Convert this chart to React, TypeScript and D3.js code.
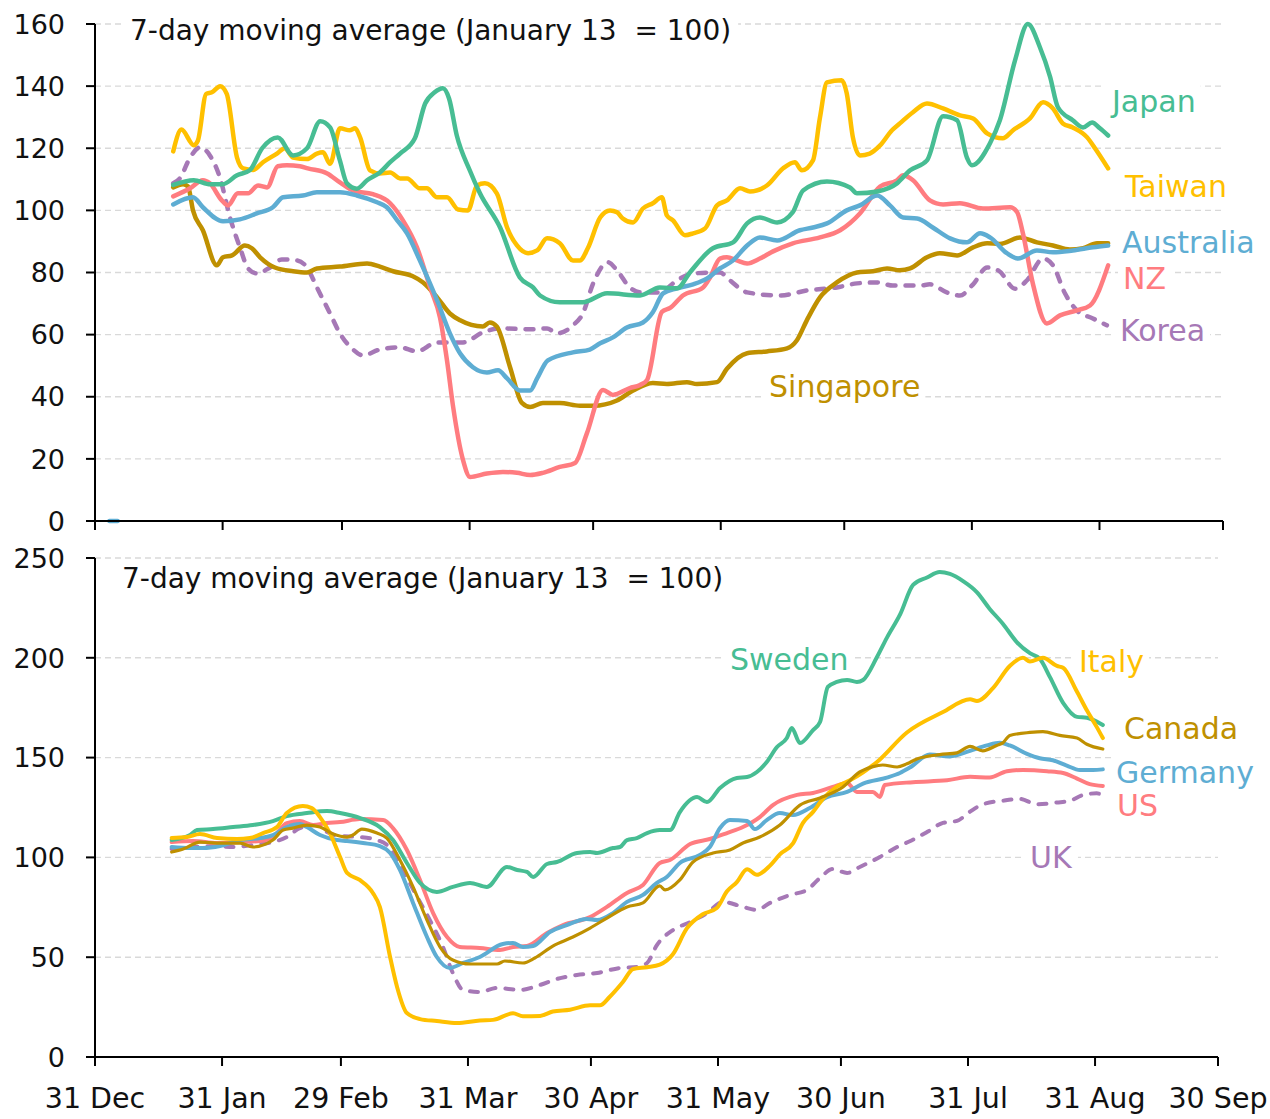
import React, { useEffect, useRef } from 'react';
import * as d3 from 'd3';

type Pt = [number, number]; // [days after 31 Dec 2019, index value]

// ---------- axis data ----------
const monthTickDays = [0, 31, 60, 91, 121, 152, 182, 213, 244, 274];
const monthTickLabels = ['31 Dec', '31 Jan', '29 Feb', '31 Mar', '30 Apr', '31 May', '30 Jun', '31 Jul', '31 Aug', '30 Sep'];
const topYTicks = [0, 20, 40, 60, 80, 100, 120, 140, 160];
const bottomYTicks = [0, 50, 100, 150, 200, 250];
const chartTitle = '7-day moving average (January 13  = 100)';

// ---------- top panel series ----------
const japan: Pt[] = [[19,108.2],[24,109.7],[28,108.4],[31,108.4],[34.5,111.3],[37.6,112.9],[40.6,120],[44.4,123.5],[48.1,117.7],[51.5,120],[54.7,128.7],[57.1,126.7],[59.5,116],[61.2,108.7],[63.6,107],[66.1,109.7],[69.2,112.2],[71.7,115.5],[74.1,118.3],[77.7,123.2],[80.2,134.4],[82.5,138],[84.5,139.3],[86,136],[87.9,124],[91,113],[93.5,105.5],[98.4,94.5],[103.2,78.4],[106.4,75.2],[108.1,72.6],[112.9,70.4],[118.5,70.4],[124.4,73.3],[132.4,72.6],[137.2,75.2],[141.4,74.9],[144.5,80],[150.1,87.8],[155,89.7],[158.4,95.8],[161.5,97.7],[165.7,96.1],[169.5,99.4],[172,106.4],[177.8,109.3],[183.4,107.4],[185.1,105.5],[190,106.1],[194.8,108.7],[198,112.9],[202.1,116.1],[206,130.3],[209.4,129],[211.8,117],[213,114.5],[217.4,121.6],[219.8,129],[223.5,148.4],[226.6,160],[229.5,152.6],[232,143],[233.9,133.2],[237.5,129],[240,126.7],[242.2,128.3],[244.1,126.4],[246.1,124.1]];
const taiwan: Pt[] = [[19,119],[21,126],[24,121],[25,122.5],[27,137.5],[28.4,138],[30.4,140],[32,137.5],[34.5,117],[36,113.5],[38.4,113],[40.8,115.5],[44.2,118.3],[46.1,120],[48.1,117],[51.5,116.5],[53.9,118.3],[55.4,118.7],[57.1,115],[59.5,126.4],[61.9,125.8],[63.2,126.4],[64.4,123.5],[66.8,112.9],[69.2,111.9],[71.7,112.2],[74.1,110.3],[75.8,110.3],[78.9,107.1],[80.6,107.1],[83.1,104.2],[85.5,104.2],[88.2,100.3],[90.6,100],[92.8,108],[94.7,108.7],[97.6,105.5],[100.1,94.5],[102.5,88.7],[105.2,86.2],[107.4,87.1],[109.8,91],[112.9,89.4],[116.1,83.9],[117.8,83.9],[119.7,87.8],[122.7,97.7],[125.1,100],[126.8,99.4],[128.2,97.4],[130.7,96.1],[133.1,100.6],[135.5,102.3],[137.7,104.2],[138.9,98.4],[140.4,96.8],[143.3,92],[145.3,92.6],[148.2,94.2],[151.1,101.6],[153.5,103.2],[156.7,107.1],[159.1,106.1],[163.2,108],[167.1,113.5],[170,115.5],[171.7,112.9],[174.4,116.1],[176.1,129.9],[177.8,141.2],[181.4,141.9],[182.6,137.7],[184.1,123.5],[185.8,117.7],[188.2,118.3],[190.7,120.9],[193.6,125.8],[195.5,128],[198.7,131.6],[202.1,134.4],[206,132.8],[210.1,130.6],[213.3,129.6],[216.7,124.8],[220.5,123.2],[223,125.8],[227.1,129.6],[230.3,134.8],[232.7,132.8],[235.1,128],[237.5,126.7],[241,123.5],[242.9,120],[246.1,113.5]];
const australia: Pt[] = [[19,101.9],[23.8,104.2],[26.2,101],[31.1,96.5],[35.2,97.1],[39.3,99],[43.2,101],[45.7,104.2],[50.5,104.8],[53.9,105.8],[59.5,105.8],[63.6,104.8],[68.5,102.6],[70.9,101],[73.4,96.8],[75.8,92.6],[78.9,83.9],[83.1,71],[86.2,60.4],[88.7,53.9],[91.8,49.5],[95.2,47.8],[97.9,48.5],[100.1,45.9],[103.2,42],[105.7,42],[107.4,45.9],[110,51.7],[116.1,54.3],[120.2,55.2],[122.7,57.2],[125.8,59.1],[129.2,62.3],[133.1,63.9],[135.5,67.2],[138,73.3],[141.4,74.9],[145.3,76.2],[148.7,78.1],[151.8,81.3],[155,83.9],[158.4,88.7],[161.5,91.3],[165.7,90.3],[171.2,93.6],[174.4,94.5],[177.8,95.8],[182.6,100],[185.8,101.6],[190,104.8],[193.1,101.6],[196.3,97.7],[199.7,97.4],[203.5,94.5],[207.7,91],[211.8,89.7],[215,92.6],[217.4,91.3],[221.5,86.2],[224.2,84.5],[228.8,87.1],[232.7,86.5],[237.5,87.1],[242.4,88.1],[246.1,88.7]];
const australiaEarly: Pt[] = [[3.5,0],[5.5,0]];
const nz: Pt[] = [[19,104.5],[23.1,107.1],[26.2,109.7],[27.9,108.7],[30.8,103.2],[32.3,101.6],[34.7,105.5],[37.2,105.5],[39.6,108],[41.8,107.4],[44.4,114.2],[46.6,114.5],[49.8,114.2],[51.7,113.5],[56.4,111.9],[59.5,109],[62.7,106.4],[67.5,105.2],[71.7,102.3],[74.8,96.8],[78.2,88.1],[81.4,75.2],[83.8,65.5],[85.5,51.7],[87,36.7],[89.4,19.6],[91.1,14.2],[95.2,15.3],[99.1,15.8],[102.5,15.5],[105.7,14.8],[108.8,15.5],[112.9,17.4],[116.6,18.7],[119.5,28.3],[123.4,42.2],[125.8,40.6],[129.9,42.8],[132.4,43.8],[134.1,45.4],[137.7,67.3],[139.7,68.6],[142.8,72.6],[147.7,75.2],[149.4,78.4],[151.8,84.5],[153.5,84.9],[155.9,83.9],[158.4,82.9],[161.5,84.5],[164.7,86.8],[169.5,89.4],[176.1,91.3],[181,93.6],[185.8,99],[190.7,107.7],[194.8,109.7],[196.3,111.3],[198.7,109.7],[202.8,103.2],[206,101.9],[210.1,102.3],[215.7,100.6],[222.3,101],[224,99.4],[225.4,92.6],[227.8,76.5],[231.2,63.6],[234.4,66.2],[238.5,67.8],[241.7,69.4],[246.1,82.3]];
const korea: Pt[] = [[19,108.7],[20.6,110.3],[23.1,117],[25.5,120.3],[27.9,117.7],[30.4,110.3],[32.8,97.7],[35.2,88.1],[37.2,81.3],[39.3,79.7],[42.5,81.6],[45.4,84.2],[49.1,83.9],[51.5,81.6],[53.9,75.2],[57.1,66.8],[59.5,60.4],[62.7,55.2],[65.1,53.3],[69.2,55.2],[74.1,55.9],[78.2,54.6],[83.1,57.5],[89.4,57.5],[94.2,60.7],[98.4,62],[106.4,61.7],[109.8,62],[112.2,60.4],[116.1,63],[118.5,66.8],[121,76.5],[124.6,83.3],[126.8,80.7],[129.9,75.2],[132.4,73.6],[137.2,73.6],[141.4,77.5],[145.3,79.7],[151.8,80],[154.2,77.5],[158.4,73.6],[166.4,72.6],[172.9,74.2],[180.2,75.2],[185.1,76.5],[190,76.8],[193.8,75.8],[200.4,75.8],[202.8,76.2],[206.9,73.6],[210.1,72.6],[213.3,76.2],[216.7,81.6],[219.5,80.6],[223.5,74.8],[226.4,77.5],[230.3,84.5],[232.7,82.3],[235.6,73.3],[238.5,67.8],[242.4,65.2],[245.8,63]];
const singapore: Pt[] = [[19,107.4],[21.4,108.4],[22.6,107.7],[23.8,100],[26.2,93.6],[29.6,82.3],[31.1,84.9],[33.3,85.5],[36.4,88.7],[38.1,87.8],[40.1,84.9],[43.7,81.6],[48.1,80.4],[51.5,80],[53.9,81.3],[59.5,81.9],[66.1,82.9],[69.2,81.9],[72.4,80.4],[77.2,78.8],[79.7,76.8],[83.1,72],[86.2,66.8],[88.7,64.6],[94.2,62.6],[95.9,63.9],[97.6,62.6],[100.8,49.6],[103.7,38],[105.7,36.7],[108.8,38],[112.9,38],[117.8,37.1],[121,37.1],[126.8,38.8],[130.7,42],[135.5,44.4],[138.9,44.1],[143.8,44.7],[146.2,44.1],[151.1,44.7],[153.5,49],[158.4,54],[163.2,54.6],[168.1,55.6],[170.5,58.2],[172.9,64.6],[176.1,72],[180.2,76.8],[185.1,80],[189,80.4],[192.4,81.3],[195.5,80.7],[198,81.3],[202.1,84.9],[205.2,86.2],[209.4,85.5],[213.3,88.1],[216.7,89.4],[219.8,89.2],[224.7,91.3],[228.8,89.7],[232.7,88.7],[236.8,87.4],[240,87.8],[243.4,89.4],[246.1,89.4]];

// ---------- bottom panel series ----------
const sweden: Pt[] = [[18.7,108.7],[23.2,111.2],[24.9,113.7],[28.8,114.2],[33.7,115.2],[38.5,116.2],[43.4,118.2],[46.8,120.7],[51.7,122.2],[56.6,123.2],[59.8,122.2],[64.7,119.7],[69.5,115.2],[72.7,108.7],[76.1,97.2],[79.3,87.2],[83.4,82.7],[87.3,85.2],[91.5,87.2],[95.6,85.2],[100.5,95.2],[103,93.7],[105.4,92.7],[106.9,90.2],[110.3,96.7],[112.7,97.7],[117.6,102.2],[120.8,102.7],[122.5,102.2],[126.4,104.7],[128.1,105.2],[129.8,108.7],[132.2,109.7],[134.7,112.2],[137.8,113.7],[140.3,113.7],[142.7,122.7],[146.9,130.2],[149.3,127.7],[152.5,134.8],[156.6,139.8],[159.1,140.3],[161.5,142.8],[163.9,147.8],[166.4,155.3],[168.8,159.8],[170,164.8],[172,157.3],[175.2,163.8],[176.9,167.8],[178.8,185.4],[181,187.9],[183.5,188.9],[185.9,187.9],[187.4,188.9],[190.8,200.4],[193.2,210],[196.5,222],[199.6,236.5],[203,240.2],[206.1,243],[208.6,242],[211.8,238.4],[215.2,232.8],[218.3,224.5],[221.5,217.1],[224.9,207.9],[228.1,202.3],[230.5,199.6],[233,190.3],[236.2,177.4],[239.6,170.4],[242,170],[244.4,168.1],[245.9,166.3]];
const italy: Pt[] = [[18.7,109.7],[22.4,110.2],[25.6,111.7],[29.8,109.7],[34.6,109.2],[37.8,109.7],[41,112.2],[44.4,115.2],[46.8,122.2],[50.7,125.7],[52.9,124.7],[54.9,120.2],[57.3,112.2],[59.8,100.2],[61.5,92.2],[64.6,88.7],[67.8,82.2],[69.5,75.2],[72,50.1],[73.7,35.1],[76.1,22],[79.3,19],[83.4,18],[88.3,17],[93.9,18.3],[97.1,18.6],[102,21.9],[104.4,20.4],[108.6,20.6],[111.7,22.8],[115.9,23.7],[120.8,25.9],[123.2,25.9],[125.6,30.2],[128.8,37.6],[131.3,44.1],[134.7,45],[137.8,46.3],[141,51.5],[144.4,64.4],[148.3,71.5],[151.7,74.6],[154.2,83],[156.6,87.6],[159.1,94.1],[161.5,91.3],[164.7,95.9],[167.1,101.5],[170.3,107],[172.7,117.2],[175.2,122.8],[177.6,129.3],[181,135.5],[184.2,138.6],[190.8,147.8],[198.1,162.6],[206.9,172.8],[213.5,179.2],[215.2,178.3],[219.1,184.8],[223.2,195.9],[226.4,200],[228.1,198.2],[231.3,200],[234.7,195.9],[236.2,195],[239.6,183],[242,173.7],[244.4,165.4],[245.9,159.8]];
const germany: Pt[] = [[18.7,105.2],[23.2,104.7],[26.3,104.7],[30.5,105.7],[35.4,108.7],[40.3,109.7],[43.4,111.2],[46.8,115.2],[50,116.7],[51.7,115.2],[54.9,111.2],[59,108.7],[61.5,108.2],[65.4,107.2],[69.5,105.7],[72,102.2],[74.4,93.7],[77.6,77.2],[81,60.1],[83.4,50.1],[86.6,44.6],[89.8,47.1],[93.9,50.1],[99.5,56.6],[102,57.1],[104.4,55.1],[106.9,55.6],[111,62.6],[115.1,66.1],[120,69.1],[122.5,68.6],[126.4,72.1],[129.8,77.7],[133.7,81.2],[137.1,87.2],[139.5,90.2],[142.7,97.2],[147.6,101.2],[150,105.2],[152.5,114.7],[154.9,118.7],[159.1,118.2],[161,114.2],[163.9,118.7],[167.1,122.2],[170.3,121.2],[174.4,124.7],[178.6,130.2],[183.5,132.8],[187.4,137],[193.2,140],[196.4,142.3],[198.8,145],[203.7,151.5],[208.6,150.6],[213.5,153.4],[217.6,156.1],[220.8,157.4],[223.2,156.1],[227.4,151.9],[230.5,149.7],[233.7,148.7],[237.1,146],[240.3,143.8],[243.5,143.8],[245.9,144.1]];
const us: Pt[] = [[18.7,107.7],[23.9,108.2],[29.8,107.2],[35.4,107.7],[40.3,108.2],[43.4,110.2],[46.8,117.2],[50,118.2],[53.2,116.2],[56.6,117.2],[59.8,117.7],[64.6,119.2],[70.3,118.7],[72.7,114.7],[76.1,103.7],[79.3,88.7],[82.5,72.1],[85.9,60.1],[89,55.1],[93.9,54.6],[98.8,53.6],[102,55.1],[105.4,55.6],[110.3,62.1],[114.2,66.1],[120.8,70.1],[124.9,75.2],[129.8,82.2],[133.7,86.2],[137.8,97.2],[140.3,98.7],[145.2,106.7],[150,109.2],[154.2,112.2],[158.1,115.2],[162.2,120.2],[165.4,126.2],[171.3,131.3],[175.2,132.3],[180,135.3],[183.5,137.3],[185.9,132.8],[189.8,132.8],[191.5,130.3],[192.7,136.3],[199.6,137.7],[207.9,138.6],[213.5,140.4],[218.3,140],[222.5,143.2],[226.4,143.8],[232.3,143.2],[236.2,142.3],[239.6,139.5],[242.7,136.7],[245.9,135.8]];
const canada: Pt[] = [[18.7,102.7],[21.5,104.2],[25.6,107.7],[29.8,107.2],[35.4,107.2],[38.5,105.2],[43.4,108.7],[45.9,113.7],[48.3,114.7],[51.7,116.2],[54.9,115.2],[58.1,111.7],[61.5,110.2],[62.9,111.2],[65.1,114.2],[68.8,112.2],[71.2,109.7],[74.4,98.7],[77.6,85.2],[81,68.6],[84.2,55.1],[87.3,48.6],[91.5,46.6],[98.1,46.6],[100,48.1],[104.4,47.1],[107.3,49.6],[111.7,55.6],[116.6,60.1],[120.8,64.6],[124.9,69.6],[129.8,75.2],[133.7,77.2],[137.8,85.7],[139.1,83.7],[142.7,88.7],[145.9,97.7],[150.8,102.2],[154.9,103.7],[158.1,107.2],[162.2,110.2],[167.1,116.2],[172,126.2],[176.9,129.8],[182.5,135.3],[186.6,142.8],[189.8,145.5],[192.2,146.3],[195.7,145.3],[198.1,146.9],[200.5,149.3],[206.1,151.5],[210.3,152.4],[213.5,155.6],[216.6,153.4],[220,156.1],[221.5,157.4],[223.2,161.1],[228.1,162.6],[231.3,163],[235.4,161.1],[239.6,159.8],[242,156.7],[245.9,154.3]];
const uk: Pt[] = [[18.7,104.2],[23.9,105.2],[28.8,105.7],[33.7,105.2],[38.5,106.2],[43.4,107.7],[46.8,110.2],[50,114.7],[54.2,116.2],[56.6,112.7],[59.8,110.7],[64.6,110.2],[68.8,108.7],[72,104.7],[75.1,93.7],[78.6,80.2],[81.7,68.6],[84.9,55.1],[87.3,42.1],[89.8,33.6],[93.9,32.6],[98.1,34.6],[103.7,33.6],[108.6,36.1],[112.7,39.1],[117.6,41.1],[122.5,42.1],[128.1,44.6],[132.2,45.1],[134.7,47.1],[137.1,56.1],[141,63.6],[145.2,67.6],[149.3,72.1],[153.2,77.7],[158.1,75.2],[161.5,73.7],[164.7,77.2],[169.6,81.2],[173.7,83.7],[176.9,89.7],[180,94.2],[183.5,92.2],[186.6,95.2],[191.5,100.2],[195.7,105.2],[198.8,108.1],[203,112.7],[206.9,117.3],[210.3,118.3],[213.5,122.9],[216.6,126.6],[221.5,128.4],[225.7,129.3],[229.8,126.6],[234.7,127.5],[237.9,128.4],[241,131.2],[244.4,132.1],[245.9,131.2]];

// ---------- styling ----------
const GREEN = '#47BD93';
const YELLOW = '#FFC000';
const BLUE = '#5EADD3';
const PINK = '#FF7C80';
const PURPLE = '#A678B6';
const GOLD = '#BF9000';
const FONT = '"DejaVu Sans", sans-serif';

const BASE = Date.UTC(2019, 11, 31);
const toDate = (d: number) => new Date(BASE + d * 864e5);

interface Series { name: string; data: Pt[]; color: string; dashed?: boolean; width: number; label?: { x: number; y: number } }
interface Panel { left: number; right: number; top: number; bottom: number; yMax: number; yTicks: number[]; titleX: number; titleY: number; xLabels: boolean; series: Series[] }

const topPanel: Panel = {
  left: 95, right: 1223, top: 24, bottom: 521, yMax: 160, yTicks: topYTicks, titleX: 130, titleY: 40, xLabels: false,
  series: [
    { name: 'Korea', data: korea, color: PURPLE, dashed: true, width: 4.5, label: { x: 1120, y: 330 } },
    { name: 'Singapore', data: singapore, color: GOLD, width: 4.5, label: { x: 769, y: 386 } },
    { name: 'NZ', data: nz, color: PINK, width: 4.5, label: { x: 1123, y: 278 } },
    { name: 'Australia', data: australia, color: BLUE, width: 4.5, label: { x: 1122, y: 242 } },
    { name: 'AustraliaEarly', data: australiaEarly, color: BLUE, width: 4.5 },
    { name: 'Taiwan', data: taiwan, color: YELLOW, width: 4.5, label: { x: 1125, y: 186 } },
    { name: 'Japan', data: japan, color: GREEN, width: 4.5, label: { x: 1112, y: 101 } },
  ],
};

const bottomPanel: Panel = {
  left: 95, right: 1218, top: 558, bottom: 1057, yMax: 250, yTicks: bottomYTicks, titleX: 122, titleY: 588, xLabels: true,
  series: [
    { name: 'UK', data: uk, color: PURPLE, dashed: true, width: 4, label: { x: 1030, y: 857 } },
    { name: 'US', data: us, color: PINK, width: 4, label: { x: 1117, y: 805 } },
    { name: 'Germany', data: germany, color: BLUE, width: 4, label: { x: 1116, y: 772 } },
    { name: 'Sweden', data: sweden, color: GREEN, width: 4, label: { x: 730, y: 659 } },
    { name: 'Italy', data: italy, color: YELLOW, width: 4, label: { x: 1079, y: 661 } },
    { name: 'Canada', data: canada, color: GOLD, width: 3.2, label: { x: 1124, y: 728 } },
  ],
};

function drawPanel(root: d3.Selection<SVGSVGElement, unknown, null, undefined>, p: Panel) {
  const x = d3.scaleTime().domain([toDate(0), toDate(274)]).range([p.left, p.right]);
  const y = d3.scaleLinear().domain([0, p.yMax]).range([p.bottom, p.top]);
  const g = root.append('g');
  const gGrid = g.append('g');
  const gBg = g.append('g');
  const gLines = g.append('g');
  const gText = g.append('g');
  const gAxis = g.append('g');

  gGrid.selectAll('line').data(p.yTicks.filter((t) => t > 0)).join('line')
    .attr('x1', p.left).attr('x2', p.right)
    .attr('y1', (d) => y(d)).attr('y2', (d) => y(d))
    .attr('stroke', '#D9D9D9').attr('stroke-width', 1.4).attr('stroke-dasharray', '6 4');

  const title = gText.append('text')
    .attr('x', p.titleX).attr('y', p.titleY)
    .attr('font-size', 28).attr('fill', '#111')
    .style('white-space', 'pre')
    .text(chartTitle);
  const tb = (title.node() as SVGTextElement).getBBox();
  gBg.append('rect').attr('x', tb.x - 7).attr('y', tb.y - 2).attr('width', tb.width + 14).attr('height', tb.height + 4).attr('fill', '#fff');

  p.series.forEach((s) => {
    if (!s.label) return;
    const t = gText.append('text')
      .attr('x', s.label.x).attr('y', s.label.y).attr('dy', '0.36em')
      .attr('font-size', 30).attr('fill', s.color)
      .text(s.name);
    const b = (t.node() as SVGTextElement).getBBox();
    gBg.append('rect').attr('x', b.x - 5).attr('y', b.y).attr('width', b.width + 10).attr('height', b.height).attr('fill', '#fff');
  });

  const line = d3.line<Pt>().x((d) => x(toDate(d[0]))).y((d) => y(d[1])).curve(d3.curveMonotoneX);
  p.series.forEach((s) => {
    gLines.append('path')
      .attr('d', line(s.data) || '')
      .attr('fill', 'none')
      .attr('stroke', s.color)
      .attr('stroke-width', s.width)
      .attr('stroke-linejoin', 'round')
      .attr('stroke-linecap', 'round')
      .attr('stroke-dasharray', s.dashed ? '8 10' : null);
  });

  // y axis
  gAxis.append('line').attr('x1', p.left).attr('x2', p.left).attr('y1', p.top).attr('y2', p.bottom)
    .attr('stroke', '#000').attr('stroke-width', 2);
  gAxis.selectAll('line.yt').data(p.yTicks).join('line').attr('class', 'yt')
    .attr('x1', p.left - 9).attr('x2', p.left).attr('y1', (d) => y(d)).attr('y2', (d) => y(d))
    .attr('stroke', '#000').attr('stroke-width', 2);
  gAxis.selectAll('text.yl').data(p.yTicks).join('text').attr('class', 'yl')
    .attr('x', p.left - 30).attr('y', (d) => y(d)).attr('dy', '0.36em')
    .attr('text-anchor', 'end').attr('font-size', 27).attr('fill', '#111')
    .text((d) => String(d));

  // x axis
  gAxis.append('line').attr('x1', p.left - 9).attr('x2', p.right).attr('y1', p.bottom).attr('y2', p.bottom)
    .attr('stroke', '#000').attr('stroke-width', 2);
  gAxis.selectAll('line.xt').data(monthTickDays).join('line').attr('class', 'xt')
    .attr('x1', (d) => x(toDate(d))).attr('x2', (d) => x(toDate(d)))
    .attr('y1', p.bottom).attr('y2', p.bottom + 9)
    .attr('stroke', '#000').attr('stroke-width', 2);
  if (p.xLabels) {
    gAxis.selectAll('text.xl').data(monthTickDays).join('text').attr('class', 'xl')
      .attr('x', (d) => x(toDate(d))).attr('y', p.bottom + 51)
      .attr('text-anchor', 'middle').attr('font-size', 28.5).attr('fill', '#111')
      .text((d, i) => monthTickLabels[i]);
  }
}

export default function App() {
  const ref = useRef<SVGSVGElement>(null);
  useEffect(() => {
    if (!ref.current) return;
    const svg = d3.select(ref.current);
    svg.selectAll('*').remove();
    svg.append('rect').attr('width', 1270).attr('height', 1119).attr('fill', '#fff');
    drawPanel(svg, topPanel);
    drawPanel(svg, bottomPanel);
  }, []);
  return (
    <svg
      ref={ref}
      width={1270}
      height={1119}
      style={{ position: 'absolute', left: 0, top: 0, display: 'block', fontFamily: FONT }}
    />
  );
}
